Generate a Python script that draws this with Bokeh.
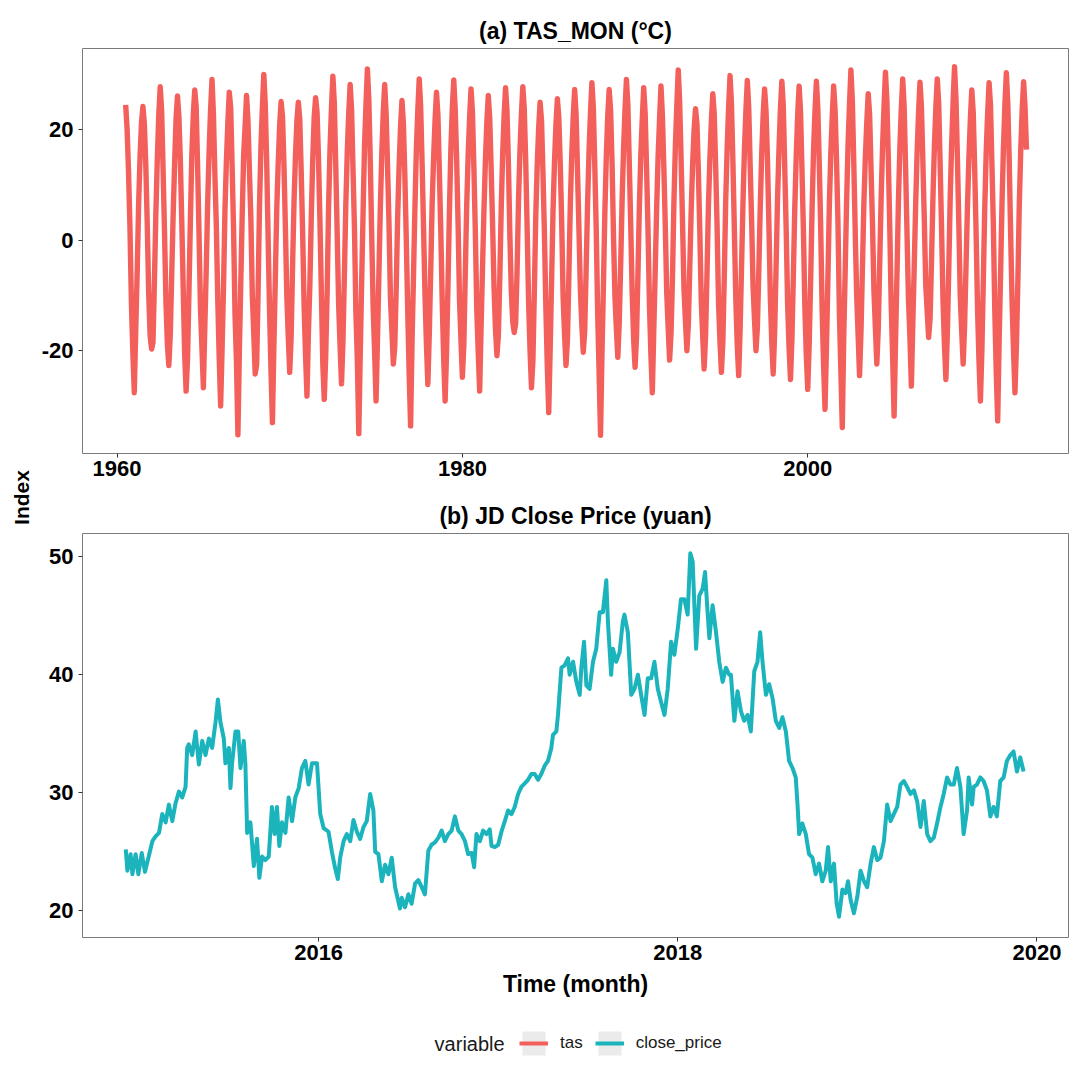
import math
import numpy as np
from bokeh.plotting import figure
from bokeh.layouts import row, column
from bokeh.models import Range1d, FixedTicker, Label, Legend, LegendItem
from bokeh.embed import file_html
from bokeh.resources import INLINE

# ---------------- data ----------------
# (a) monthly near-surface air temperature, first value = Jul 1960
tas_start_year = 1960
tas_start_month = 7
tas_1960s = [24.5, 20.1, 12.3, 2.1, -11.5, -20.4,
             -27.6, -16.2, -5.8, 6.4, 15.1, 21.3, 24.2, 21.0, 13.5, 2.8, -9.6, -17.3,
             -19.7, -18.5, -7.2, 5.1, 14.8, 22.6, 27.8, 23.4, 12.9, 1.5, -11.2, -18.9,
             -22.7, -17.1, -6.3, 4.6, 13.7, 21.9, 26.1, 22.3, 14.4, 3.2, -8.8, -20.6,
             -27.3, -21.4, -9.1, 3.9, 15.6, 22.8, 27.2, 24.1, 13.2, 0.9, -12.4, -19.5,
             -26.7, -15.8, -5.1, 6.9, 16.2, 23.5, 29.1, 22.7, 11.8, 2.6, -10.7, -21.3,
             -30.0, -19.6, -8.4, 5.4, 14.3, 21.2, 26.8, 23.9, 13.1, 1.8, -13.5, -22.1,
             -35.2, -20.3, -7.7, 4.8, 15.4, 20.6, 26.2, 21.5, 12.6, 3.9, -9.9, -16.8,
             -24.2, -22.6, -9.8, 6.2, 16.8, 24.1, 30.0, 24.6, 14.1, 0.4, -12.9, -23.7,
             -33.0, -19.1, -6.9, 5.7, 13.9, 20.8, 25.1, 22.4, 13.6, 2.3, -10.2, -17.6]
tas_1970s = [-23.9, -17.4, -4.6, 7.1, 15.2, 21.6, 25.0, 21.8, 12.2, 1.2, -11.9, -20.8,
             -28.2, -16.7, -8.1, 4.3, 14.6, 22.3, 25.8, 23.2, 14.8, 3.5, -9.4, -22.4,
             -28.8, -21.1, -9.6, 5.9, 16.4, 23.8, 29.7, 24.8, 13.4, 1.1, -11.6, -19.2,
             -26.0, -18.2, -6.2, 6.6, 15.9, 22.9, 28.2, 23.6, 12.7, 2.2, -13.1, -21.8,
             -35.0, -20.9, -7.5, 5.2, 17.1, 24.6, 31.0, 25.3, 14.2, 0.7, -12.3, -20.2,
             -29.1, -17.8, -5.9, 6.1, 15.8, 23.1, 28.2, 22.9, 13.3, 2.9, -10.5, -16.4,
             -22.4, -19.3, -8.8, 4.1, 13.2, 20.4, 25.3, 21.2, 11.9, 0.2, -12.7, -24.1,
             -33.6, -18.6, -6.6, 5.8, 16.3, 23.4, 29.2, 24.2, 13.8, 2.4, -9.8, -18.7,
             -26.1, -16.9, -5.4, 6.8, 14.9, 21.7, 26.8, 22.6, 12.4, 1.6, -11.4, -21.5,
             -29.1, -20.2, -7.9, 5.3, 16.6, 23.9, 29.0, 23.8, 14.6, 3.1, -10.8, -18.1]
tas_1980s = [-24.8, -18.9, -6.1, 6.3, 15.3, 22.1, 27.4, 23.1, 13.0, 1.4, -12.6, -20.3,
             -27.3, -15.6, -4.9, 5.6, 14.4, 21.4, 26.2, 22.0, 12.8, 2.7, -8.6, -16.2,
             -20.9, -17.2, -6.8, 6.0, 15.7, 22.5, 27.6, 23.3, 13.7, 0.8, -9.3, -14.8,
             -16.7, -15.1, -5.6, 7.2, 16.1, 22.8, 27.8, 23.7, 14.3, 2.1, -11.1, -19.9,
             -26.7, -21.8, -9.3, 4.4, 13.6, 20.3, 25.0, 21.6, 12.1, 1.3, -12.1, -22.8,
             -31.2, -19.7, -7.1, 5.5, 14.1, 20.9, 25.6, 22.2, 13.9, 3.3, -10.4, -17.1,
             -22.7, -18.0, -6.4, 6.5, 15.5, 22.2, 27.3, 22.8, 12.5, 1.9, -9.1, -15.3,
             -20.3, -16.5, -5.2, 6.7, 16.0, 23.0, 28.5, 24.0, 13.5, 2.0, -13.2, -23.9,
             -35.3, -20.6, -8.3, 5.0, 15.0, 22.4, 27.3, 23.5, 14.0, 1.0, -10.1, -16.0,
             -21.2, -14.9, -4.4, 7.4, 16.5, 23.6, 29.1, 24.4, 13.6, 2.5, -9.7, -17.9]
tas_1990s = [-23.0, -17.6, -6.0, 6.2, 15.4, 22.0, 27.6, 23.0, 12.9, 1.7, -11.8, -20.7,
             -27.6, -16.3, -5.5, 5.8, 15.1, 21.8, 27.9, 22.5, 13.1, 2.6, -9.5, -15.9,
             -21.7, -16.8, -6.7, 7.0, 16.9, 24.3, 30.8, 24.9, 14.5, 3.0, -8.9, -14.6,
             -20.0, -15.4, -5.0, 5.4, 13.8, 19.9, 23.8, 21.1, 12.3, 1.5, -10.9, -17.4,
             -23.3, -17.3, -5.8, 6.4, 14.7, 21.5, 26.5, 22.9, 13.4, 2.4, -11.3, -18.3,
             -23.9, -18.4, -6.5, 7.3, 16.7, 24.0, 29.8, 24.5, 14.1, 1.8, -10.6, -19.0,
             -24.5, -16.1, -4.7, 6.9, 16.3, 23.3, 28.9, 23.9, 13.2, 3.4, -8.4, -14.4,
             -20.0, -15.7, -5.3, 6.1, 15.6, 22.6, 27.4, 23.4, 14.7, 2.8, -10.3, -18.6,
             -24.2, -16.6, -4.8, 7.5, 16.4, 23.7, 28.8, 24.3, 13.3, 2.1, -11.5, -19.4,
             -25.2, -17.9, -6.3, 6.0, 15.2, 22.7, 27.9, 23.2, 12.6, 1.6, -12.2, -20.9]
tas_2000s = [-27.0, -18.8, -7.4, 5.6, 16.0, 23.2, 28.8, 23.8, 13.8, 2.2, -12.8, -22.6,
             -30.6, -19.4, -7.0, 6.3, 15.5, 22.3, 27.9, 23.6, 14.4, 3.1, -13.4, -23.5,
             -33.9, -17.7, -5.7, 7.0, 17.2, 24.5, 30.8, 25.1, 13.9, 1.4, -10.0, -17.2,
             -24.5, -16.4, -5.1, 6.6, 14.8, 21.2, 26.5, 22.7, 12.7, 2.9, -9.2, -15.8,
             -22.4, -16.0, -4.3, 7.6, 17.0, 24.2, 30.4, 25.2, 14.6, 2.3, -11.7, -21.2,
             -31.8, -18.3, -6.2, 6.8, 16.6, 23.8, 29.2, 24.0, 13.1, 1.0, -10.7, -17.5,
             -26.4, -15.2, -4.6, 6.5, 15.9, 23.1, 28.6, 24.2, 14.2, 3.6, -8.1, -12.9,
             -17.6, -14.2, -3.9, 7.7, 16.9, 23.9, 29.2, 24.7, 13.7, 2.0, -11.0, -19.1,
             -25.2, -17.0, -5.2, 7.8, 17.3, 25.0, 31.4, 25.6, 14.9, 2.7, -10.4, -16.6,
             -22.4, -15.5, -4.5, 6.2, 15.0, 21.9, 27.2, 23.1, 13.0, 1.3, -12.5, -21.9]
tas_2010s = [-29.1, -20.0, -7.3, 5.9, 15.8, 22.9, 28.5, 24.4, 13.6, 2.5, -13.0, -24.0,
             -32.7, -18.1, -6.1, 6.7, 16.8, 24.4, 30.3, 24.8, 14.4, 1.2, -11.4, -20.1,
             -27.6, -19.2, -7.6, 6.4, 16.2, 23.6, 28.7, 24.1, 16.4]

# (b) JD daily close price (yuan), decimal-year dates
jd_time = [2014.926, 2014.935, 2014.953, 2014.963, 2014.981, 2014.996, 2015.015, 2015.033, 2015.052, 2015.074,
           2015.092, 2015.111, 2015.129, 2015.148, 2015.166, 2015.185, 2015.203, 2015.222, 2015.240, 2015.259,
           2015.268, 2015.277, 2015.296, 2015.315, 2015.333, 2015.352, 2015.370, 2015.389, 2015.407, 2015.426,
           2015.439, 2015.453, 2015.472, 2015.481, 2015.500, 2015.509, 2015.518, 2015.537, 2015.552, 2015.565,
           2015.583, 2015.592, 2015.602, 2015.620, 2015.639, 2015.657, 2015.670, 2015.685, 2015.703, 2015.722,
           2015.740, 2015.755, 2015.768, 2015.781, 2015.796, 2015.815, 2015.833, 2015.852, 2015.870, 2015.889,
           2015.907, 2015.926, 2015.944, 2015.963, 2015.991, 2016.009, 2016.028, 2016.055, 2016.074, 2016.092,
           2016.107, 2016.120, 2016.139, 2016.157, 2016.176, 2016.194, 2016.213, 2016.231, 2016.250, 2016.268,
           2016.287, 2016.305, 2016.315, 2016.333, 2016.352, 2016.370, 2016.389, 2016.407, 2016.426, 2016.453,
           2016.463, 2016.481, 2016.500, 2016.518, 2016.537, 2016.555, 2016.574, 2016.592, 2016.611, 2016.629,
           2016.648, 2016.667, 2016.685, 2016.703, 2016.722, 2016.741, 2016.759, 2016.778, 2016.796, 2016.815,
           2016.833, 2016.852, 2016.866, 2016.879, 2016.898, 2016.916, 2016.935, 2016.953, 2016.963, 2016.981,
           2017.000, 2017.018, 2017.037, 2017.055, 2017.074, 2017.092, 2017.111, 2017.129, 2017.148, 2017.166,
           2017.185, 2017.203, 2017.222, 2017.240, 2017.259, 2017.277, 2017.296, 2017.305, 2017.324, 2017.333,
           2017.352, 2017.370, 2017.389, 2017.398, 2017.417, 2017.435, 2017.454, 2017.463, 2017.478, 2017.491,
           2017.509, 2017.528, 2017.546, 2017.565, 2017.583, 2017.602, 2017.611, 2017.629, 2017.639, 2017.657,
           2017.676, 2017.694, 2017.703, 2017.722, 2017.741, 2017.759, 2017.778, 2017.796, 2017.815, 2017.833,
           2017.852, 2017.870, 2017.889, 2017.907, 2017.926, 2017.944, 2017.963, 2017.981, 2018.000, 2018.018,
           2018.037, 2018.055, 2018.070, 2018.083, 2018.102, 2018.120, 2018.139, 2018.152, 2018.166, 2018.176,
           2018.194, 2018.213, 2018.231, 2018.250, 2018.268, 2018.287, 2018.296, 2018.315, 2018.333, 2018.352,
           2018.370, 2018.389, 2018.407, 2018.426, 2018.444, 2018.459, 2018.472, 2018.491, 2018.509, 2018.528,
           2018.546, 2018.565, 2018.583, 2018.602, 2018.620, 2018.639, 2018.657, 2018.667, 2018.676, 2018.694,
           2018.713, 2018.731, 2018.750, 2018.768, 2018.787, 2018.805, 2018.824, 2018.837, 2018.852, 2018.870,
           2018.885, 2018.898, 2018.917, 2018.935, 2018.948, 2018.963, 2018.981, 2019.000, 2019.018, 2019.037,
           2019.055, 2019.074, 2019.092, 2019.111, 2019.129, 2019.148, 2019.166, 2019.185, 2019.203, 2019.222,
           2019.240, 2019.259, 2019.277, 2019.296, 2019.315, 2019.333, 2019.352, 2019.370, 2019.389, 2019.407,
           2019.426, 2019.444, 2019.463, 2019.481, 2019.500, 2019.518, 2019.537, 2019.555, 2019.574, 2019.592,
           2019.611, 2019.620, 2019.639, 2019.648, 2019.666, 2019.685, 2019.703, 2019.722, 2019.741, 2019.759,
           2019.777, 2019.796, 2019.815, 2019.833, 2019.852, 2019.870, 2019.889, 2019.907, 2019.926]
jd_close = [25.2, 23.4, 24.8, 23.1, 24.8, 23.1, 24.9, 23.3, 24.5, 25.9,
            26.3, 26.6, 28.2, 27.5, 29.0, 27.6, 29.1, 30.1, 29.6, 30.5,
            33.8, 34.1, 33.2, 35.2, 32.4, 34.4, 33.2, 34.6, 33.8, 36.0,
            37.9, 36.0, 34.6, 32.5, 33.8, 30.4, 32.5, 35.2, 35.2, 32.1,
            34.4, 32.5, 26.6, 27.5, 23.8, 26.1, 22.8, 24.6, 24.3, 24.6,
            28.8, 26.5, 28.8, 25.5, 27.5, 26.6, 29.6, 27.6, 29.6, 30.4,
            32.1, 32.7, 30.7, 32.5, 32.5, 28.2, 27.0, 26.7, 25.0, 23.6,
            22.7, 24.5, 25.9, 26.5, 25.9, 27.7, 26.7, 26.1, 27.1, 27.6,
            29.9, 28.5, 25.0, 24.8, 22.5, 23.9, 23.1, 24.5, 22.0, 20.2,
            21.1, 20.3, 21.4, 20.6, 22.3, 22.6, 22.0, 21.4, 25.1, 25.6,
            25.8, 26.2, 26.8, 25.9, 26.5, 26.8, 28.0, 26.8, 26.5, 25.9,
            24.8, 24.9, 23.7, 26.5, 25.9, 26.8, 26.5, 26.9, 25.5, 25.4,
            25.6, 26.7, 27.6, 28.5, 28.2, 28.8, 29.9, 30.5, 30.8, 31.1,
            31.6, 31.6, 31.1, 31.6, 32.3, 32.7, 33.8, 34.9, 35.2, 36.6,
            40.6, 40.8, 41.4, 40.0, 41.1, 39.4, 38.3, 40.6, 42.8, 39.1,
            38.8, 41.1, 42.2, 45.3, 45.3, 48.0, 44.5, 40.0, 42.2, 41.1,
            41.9, 44.5, 45.1, 43.6, 38.3, 38.8, 40.0, 38.3, 36.6, 39.7,
            39.7, 41.1, 38.8, 37.7, 36.6, 38.8, 42.8, 41.7, 43.9, 46.4,
            46.4, 45.1, 50.3, 49.6, 42.2, 46.7, 47.3, 48.7, 45.3, 43.1,
            45.9, 43.6, 41.1, 39.4, 40.6, 40.0, 40.0, 36.1, 38.6, 36.9,
            36.1, 36.6, 35.2, 40.3, 41.1, 43.6, 41.1, 38.3, 39.2, 38.0,
            36.1, 35.5, 36.4, 35.2, 32.7, 32.1, 31.3, 29.0, 26.5, 27.4,
            26.5, 24.8, 24.5, 23.1, 24.0, 22.5, 23.4, 25.4, 22.5, 24.0,
            20.6, 19.5, 21.8, 21.5, 22.5, 20.9, 19.8, 21.2, 23.4, 22.5,
            22.0, 24.0, 25.4, 24.3, 24.5, 25.9, 29.0, 27.6, 28.2, 28.8,
            30.7, 31.0, 30.5, 29.9, 30.2, 29.3, 27.1, 29.3, 26.5, 25.9,
            26.2, 27.4, 28.8, 29.9, 31.3, 30.7, 30.7, 32.1, 30.5, 26.5,
            28.5, 31.3, 29.0, 30.5, 30.7, 31.3, 31.0, 30.2, 28.0, 28.8,
            28.0, 31.0, 31.3, 32.7, 33.2, 33.5, 31.8, 33.0, 31.8]

titles = ["(a) TAS_MON (\u00b0C)", "(b) JD Close Price (yuan)"]
legend_title = "variable"
legend_labels = ["tas", "close_price"]
top_xticks = [1960, 1980, 2000]
top_yticks = [-20, 0, 20]
bot_xticks = [2016, 2018, 2020]
bot_yticks = [20, 30, 40, 50]

# ---------------- build ----------------
tas_vals = tas_1960s + tas_1970s + tas_1980s + tas_1990s + tas_2000s + tas_2010s
tas_time = [tas_start_year + (tas_start_month - 1) / 12 + i / 12 for i in range(len(tas_vals))]

FONT = "Liberation Sans"
RED = "#F35F5B"
TEAL = "#1BB4BD"
PW = 1034          # width of the column of panels
BL, BR = 42, 4     # left / right borders -> frame 988 px wide
FW = PW - BL - BR


def style(p, xticks, yticks):
    p.outline_line_color = "#7A7A7A"
    p.outline_line_width = 1
    p.xgrid.visible = False
    p.ygrid.visible = False
    for ax in (p.xaxis[0], p.yaxis[0]):
        ax.axis_line_color = None
        ax.major_tick_line_color = "#333333"
        ax.major_tick_line_width = 1
        ax.major_tick_out = 4
        ax.major_tick_in = 0
        ax.minor_tick_line_color = None
        ax.major_label_text_font = FONT
        ax.major_label_text_font_style = "bold"
        ax.major_label_text_font_size = "22px"
        ax.major_label_text_color = "black"
    p.xaxis[0].major_label_standoff = 3
    p.yaxis[0].major_label_standoff = 5
    p.xaxis[0].ticker = FixedTicker(ticks=xticks)
    p.yaxis[0].ticker = FixedTicker(ticks=yticks)
    p.yaxis[0].major_label_overrides = {t: str(t) for t in yticks}
    p.xaxis[0].major_label_overrides = {t: str(t) for t in xticks}
    p.title.text_font = FONT
    p.title.text_font_style = "bold"
    p.title.text_font_size = "23px"
    p.title.align = "center"
    p.title.standoff = 10
    p.title.text_color = "black"


p1 = figure(width=PW, height=493, output_backend="svg", toolbar_location=None,
            x_range=Range1d(1958.0, 2015.1), y_range=Range1d(-38.6, 34.7),
            min_border_left=BL, min_border_right=BR, min_border_top=48, min_border_bottom=40,
            title=titles[0])
p1.line(tas_time, tas_vals, line_color=RED, line_width=5.4, line_join="round")
style(p1, top_xticks, top_yticks)

p2 = figure(width=PW, height=512, output_backend="svg", toolbar_location=None,
            x_range=Range1d(2014.685, 2020.176), y_range=Range1d(17.74, 51.97),
            min_border_left=BL, min_border_right=BR, min_border_top=40, min_border_bottom=68,
            title=titles[1])
p2.line(jd_time, jd_close, line_color=TEAL, line_width=4.0, line_join="round")
style(p2, bot_xticks, bot_yticks)
p2.xaxis[0].axis_label = "Time (month)"
p2.xaxis[0].axis_label_text_font = FONT
p2.xaxis[0].axis_label_text_font_style = "bold"
p2.xaxis[0].axis_label_text_font_size = "23px"
p2.xaxis[0].axis_label_text_color = "black"
p2.xaxis[0].axis_label_standoff = 8

# left strip carrying the shared y label
lab = figure(width=38, height=1072, output_backend="svg", toolbar_location=None,
             x_range=Range1d(0, 38), y_range=Range1d(0, 1072),
             x_axis_type=None, y_axis_type=None, min_border=0)
lab.outline_line_color = None
lab.add_layout(Label(x=21, y=575, text="Index", angle=math.pi / 2,
                     text_align="center", text_baseline="middle",
                     text_font=FONT, text_font_style="bold", text_font_size="21px",
                     text_color="black"))

# legend strip (frame aligned with the panels)
leg = figure(width=PW, height=67, output_backend="svg", toolbar_location=None,
             x_range=Range1d(0, FW), y_range=Range1d(0, 67),
             x_axis_type=None, y_axis_type=None,
             min_border_left=BL, min_border_right=BR, min_border_top=0, min_border_bottom=0)
leg.outline_line_color = None
nan = np.array([np.nan])
bg1 = leg.rect(x=nan, y=nan, width=1, height=1, fill_color="#EBEBEB", line_color=None)
ln1 = leg.line(x=nan, y=nan, line_color=RED, line_width=4)
bg2 = leg.rect(x=nan, y=nan, width=1, height=1, fill_color="#EBEBEB", line_color=None)
ln2 = leg.line(x=nan, y=nan, line_color=TEAL, line_width=4)
legend = Legend(items=[LegendItem(label=legend_labels[0], renderers=[bg1, ln1]),
                       LegendItem(label=legend_labels[1], renderers=[bg2, ln2])],
                orientation="horizontal", location=(437, 14),
                glyph_width=29, glyph_height=30, label_standoff=12, spacing=12,
                padding=0, margin=0, border_line_color=None, background_fill_alpha=0,
                label_text_font=FONT, label_text_font_size="17px", label_text_color="#1A1A1A",
                label_height=30)
leg.add_layout(legend)
leg.add_layout(Label(x=423, y=29, text=legend_title, text_align="right", text_baseline="middle",
                     text_font=FONT, text_font_size="20px", text_color="#1A1A1A"))

layout = row(lab, column(p1, p2, leg))
open("out.html", "w").write(file_html(layout, INLINE))
